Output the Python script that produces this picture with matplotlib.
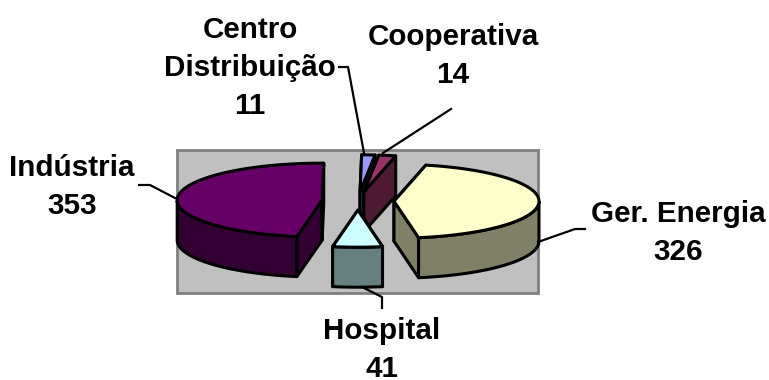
import numpy as np
import matplotlib
matplotlib.use('Agg')
import matplotlib.pyplot as plt
from matplotlib.patches import Polygon, Rectangle

plt.rcParams['font.family'] = ['Liberation Sans', 'DejaVu Sans']

categories = ['Ger. Energia', 'Hospital', 'Indústria', 'Centro\nDistribuição', 'Cooperativa']
values = [326, 41, 353, 11, 14]
top_colors = ['#FFFFCC', '#CCFFFF', '#660066', '#9999FF', '#993366']
side_colors = ['#808066', '#668080', '#330033', '#4D4D80', '#4D1933']

# label anchors and leader lines, pixel coords of the 769x380 canvas
label_pos = [(678, 233), (382, 350), (72, 187), (250, 68), (453, 56)]
leaders = [[(585, 229), (575, 229), (538, 242)],
           [(382, 308), (382, 297), (362, 287)],
           [(139, 185), (150, 185), (175, 198)],
           [(339, 67), (348, 67), (364, 153)],
           [(451, 109), (383, 153)]]

start_angle = 77.3
cx, cy = 358, 201
rx, ry = 145, 37
depth = 40
explode = 36

fig = plt.figure(figsize=(7.69, 3.8), dpi=100)
ax = fig.add_axes([0, 0, 1, 1])
ax.set_xlim(0, 769)
ax.set_ylim(380, 0)
ax.axis('off')

ax.add_patch(Rectangle((177, 150), 361, 143, fc='#C0C0C0', ec='#808080', lw=2))


def pt(x0, y0, t):
    return x0 + rx * np.cos(t), y0 - ry * np.sin(t)


def draw_wedge(a0, a1, top, side):
    # a0 > a1, clockwise, degrees
    mid = np.radians((a0 + a1) / 2)
    x0 = cx + explode * np.cos(mid)
    y0 = cy - explode * ry / rx * np.sin(mid)
    ts = np.radians(np.linspace(a0, a1, 120))
    xs, ys = pt(x0, y0, ts)
    for i in (0, -1):
        quad = [(x0, y0), (xs[i], ys[i]), (xs[i], ys[i] + depth), (x0, y0 + depth)]
        ax.add_patch(Polygon(quad, fc=side, ec='black', lw=2.2, joinstyle='round'))
    front = np.sin(ts) < 0
    if front.any():
        fx, fy = xs[front], ys[front]
        rim = np.column_stack([np.r_[fx, fx[::-1]], np.r_[fy, fy[::-1] + depth]])
        ax.add_patch(Polygon(rim, fc=side, ec='black', lw=2.2, joinstyle='round'))
    face = np.column_stack([np.r_[x0, xs], np.r_[y0, ys]])
    ax.add_patch(Polygon(face, fc=top, ec='black', lw=2.2, joinstyle='round'))


sweeps = np.array(values) / sum(values) * 360
ends = start_angle - np.cumsum(sweeps)
starts = ends + sweeps
for i in [3, 4, 2, 0, 1]:
    draw_wedge(starts[i], ends[i], top_colors[i], side_colors[i])

for line in leaders:
    xs, ys = zip(*line)
    ax.plot(xs, ys, color='black', lw=1.6)

for name, val, (x, y) in zip(categories, values, label_pos):
    ax.text(x, y, f'{name}\n{val}', ha='center', va='center', fontsize=21.3,
            fontweight='bold', linespacing=1.45)

fig.savefig('out.png', dpi=100)
